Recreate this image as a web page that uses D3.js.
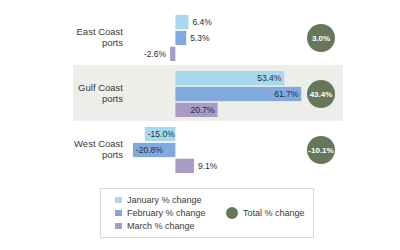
<!DOCTYPE html>
<html>
<head>
<meta charset="utf-8">
<script src="https://cdn.jsdelivr.net/npm/d3@7"></script>
<style>
  body { margin: 0; background: #fff; }
  svg { font-family: 'Liberation Sans', Arial, sans-serif; }
</style>
</head>
<body>
<div id="chart"></div>
<script>
const regions = ['East Coast ports', 'Gulf Coast ports', 'West Coast ports']
const regionLines = [['East Coast', 'ports'], ['Gulf Coast', 'ports'], ['West Coast', 'ports']]
const months = ['January % change', 'February % change', 'March % change']
const january = [6.4, 53.4, -15.0]
const february = [5.3, 61.7, -20.8]
const march = [-2.6, 20.7, 9.1]
const total = [3.0, 43.4, -10.1]

const colors = ['#a6d9ec', '#82a9dc', '#a99ac6']
const totalColor = '#67785a'

const width = 400, height = 250
const svg = d3.select('#chart').append('svg')
    .attr('width', width)
    .attr('height', height)

const x = d3.scaleLinear().domain([-22, 65]).range([130.5, 308])
const y = d3.scaleBand().domain(regions).range([9, 177])
const yInner = d3.scaleBand().domain(months).range([6, 52]).paddingInner(0.1)
const fmt = v => v.toFixed(1) + '%'

// shaded band behind the middle row
svg.append('rect')
    .attr('x', 73).attr('width', 270)
    .attr('y', y(regions[1])).attr('height', y.bandwidth())
    .attr('fill', '#eceee9')

const series = [january, february, march]

regions.forEach((r, i) => {
  const g = svg.append('g').attr('transform', 'translate(0,' + y(r) + ')')

  const label = g.append('text')
      .attr('text-anchor', 'end')
      .attr('fill', '#3a3a3a')
      .style('font-size', '9.5px')
  regionLines[i].forEach((line, j) => {
    label.append('tspan')
        .attr('x', 123)
        .attr('y', y.bandwidth() / 2 - 2 + j * 10.5)
        .text(line)
  })

  series.forEach((s, m) => {
    const v = s[i]
    const by = yInner(months[m])
    const bh = yInner.bandwidth()
    g.append('rect')
        .attr('x', x(Math.min(0, v)))
        .attr('width', Math.abs(x(v) - x(0)))
        .attr('y', by)
        .attr('height', bh)
        .attr('fill', colors[m])

    const inside = Math.abs(v) >= 15
    let tx, anchor
    if (v >= 0) {
      tx = inside ? x(v) - 3 : x(v) + 4
      anchor = inside ? 'end' : 'start'
    } else {
      tx = inside ? x(v) + 3 : x(v) - 4
      anchor = inside ? 'start' : 'end'
    }
    g.append('text')
        .attr('x', tx)
        .attr('y', by + bh / 2)
        .attr('dy', '0.35em')
        .attr('text-anchor', anchor)
        .attr('fill', '#2a2a3a')
        .style('font-size', '8.5px')
        .text(fmt(v))
  })

  const cy = yInner(months[1]) + yInner.bandwidth() / 2
  g.append('circle')
      .attr('cx', 321)
      .attr('cy', cy)
      .attr('r', 14)
      .attr('fill', totalColor)
  g.append('text')
      .attr('x', 321)
      .attr('y', cy)
      .attr('dy', '0.35em')
      .attr('text-anchor', 'middle')
      .attr('fill', '#fff')
      .style('font-size', '8px')
      .style('font-weight', 'bold')
      .text(fmt(total[i]))
})

// legend
const legend = svg.append('g')
legend.append('rect')
    .attr('x', 100.5).attr('y', 188.5)
    .attr('width', 213).attr('height', 49)
    .attr('fill', '#fff')
    .attr('stroke', '#d8d8d8')

months.forEach((m, i) => {
  const ly = 200 + i * 13
  legend.append('rect')
      .attr('x', 115).attr('y', ly - 3)
      .attr('width', 7).attr('height', 6)
      .attr('fill', colors[i])
  legend.append('text')
      .attr('x', 127).attr('y', ly)
      .attr('dy', '0.35em')
      .attr('fill', '#3a3a3a')
      .style('font-size', '9px')
      .text(m)
})
legend.append('circle')
    .attr('cx', 232).attr('cy', 213)
    .attr('r', 6)
    .attr('fill', totalColor)
legend.append('text')
    .attr('x', 243).attr('y', 213)
    .attr('dy', '0.35em')
    .attr('fill', '#3a3a3a')
    .style('font-size', '9px')
    .text('Total % change')
</script>
</body>
</html>
